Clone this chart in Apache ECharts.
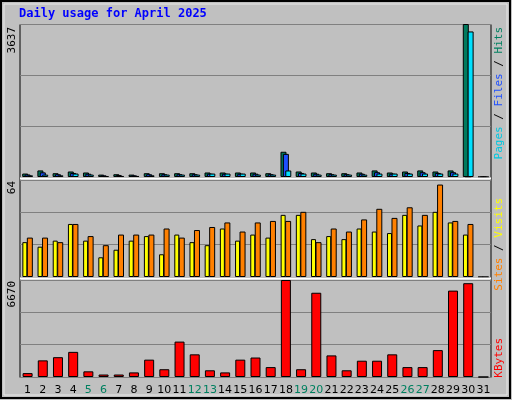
<!DOCTYPE html>
<html><head><meta charset="utf-8">
<script src="https://cdn.jsdelivr.net/npm/echarts@6/dist/echarts.min.js"></script>
<style>html,body{margin:0;padding:0;background:#c0c0c0}#c{width:512px;height:400px}</style>
</head><body><div id="c"></div>
<script>
const days = Array.from({length:31},(_,i)=>String(i+1));
const weekend = ['5','6','12','13','19','20','26','27'];
const hits  = [82,156,90,131,107,57,66,57,90,90,90,90,107,107,107,107,90,600,131,107,90,90,107,156,107,131,156,131,156,3637,0];
const files = [60,110,66,96,78,40,48,40,66,66,66,66,78,78,78,78,66,550,96,78,66,66,78,114,78,96,114,96,114,0,0];
const pages = [40,57,40,82,57,20,25,25,40,57,57,57,82,82,82,57,57,155,82,57,57,57,57,82,82,82,82,82,82,3460,0];
const visits = [23,20,24,35,24,13,18,24,27,15,28,23,21,32,24,28,26,41,41,25,27,25,32,30,29,41,34,43,36,28,0];
const sites  = [26,26,23,35,27,21,28,28,28,32,26,31,33,36,30,36,37,37,43,23,32,30,38,45,39,46,41,61,37,35,0];
const kbytes = [268,1144,1363,1728,390,170,170,316,1193,535,2434,1558,462,316,1193,1339,681,6670,535,5793,1485,462,1120,1120,1558,681,681,1850,5940,6450,0];
const maxTop = 3637, maxMid = 64, maxBot = 6670;

const chart = echarts.init(document.getElementById('c'));
const L = 20, R = 21;
const grids = [{left:L,right:R,top:24,height:153},{left:L,right:R,top:180,height:97},{left:L,right:R,top:280,height:97}];
const ist = {borderColor:'#000',borderWidth:1};
const mono='DejaVu Sans Mono';
function yAx(i,max){return {gridIndex:i,min:0,max:max,interval:max/3,axisLabel:{show:false},axisTick:{show:false},axisLine:{show:false},splitLine:{lineStyle:{color:'#808080',width:1}}};}
function xAx(i,show){return {gridIndex:i,type:'category',data:days,axisTick:{show:false},axisLine:{show:false},
  axisLabel:{show:show,interval:0,margin:8,fontFamily:'DejaVu Sans',fontSize:11,
    formatter:v=>weekend.includes(v)?'{w|'+v+'}':'{n|'+v+'}',rich:{w:{color:'#008060',fontSize:11,fontFamily:'DejaVu Sans'},n:{color:'#000',fontSize:11,fontFamily:'DejaVu Sans'}}}};}
function vtext(x,y,text,fill,rich){const s={text:text,font:'11px '+mono,fill:fill||'#000',align:'right',verticalAlign:'top'};if(rich)s.rich=rich;
  return {type:'text',x:x,y:y,rotation:Math.PI/2,style:s};}
chart.setOption({
  animation:false,backgroundColor:'#c0c0c0',
  grid:grids,
  xAxis:[xAx(0,false),xAx(1,false),xAx(2,true)],
  yAxis:[yAx(0,maxTop),yAx(1,maxMid),yAx(2,maxBot)],
  graphic:[
    {type:'rect',shape:{x:1,y:1,width:509,height:397},style:{fill:'none',stroke:'#000',lineWidth:2},silent:true},
    {type:'rect',shape:{x:4,y:4,width:503,height:391},style:{fill:'none',stroke:'#e8e8e8',lineWidth:1},silent:true},
    {type:'rect',shape:{x:20,y:24.5,width:471,height:353},style:{fill:'none',stroke:'#000',lineWidth:1},silent:true,z:-1},
    {type:'line',shape:{x1:20,y1:178.5,x2:491,y2:178.5},style:{stroke:'#fff',lineWidth:2},z:10},
    {type:'line',shape:{x1:20,y1:278.5,x2:491,y2:278.5},style:{stroke:'#fff',lineWidth:2},z:10},
    {type:'text',x:19,y:8,style:{text:'Daily usage for April 2025',font:'bold 12px '+mono,fill:'#0000ff'}},
    vtext(7,27,String(maxTop)),
    vtext(7,181,String(maxMid)),
    vtext(7,281,String(maxBot)),
    vtext(494,27,'{a|Pages} / {b|Files} / {c|Hits}','#000',
      {a:{fill:'#00c8e0',font:'11px '+mono},b:{fill:'#1e4fff',font:'11px '+mono},c:{fill:'#008060',font:'11px '+mono}}),
    vtext(494,198,'{a|Sites} / {b|Visits}','#000',
      {a:{fill:'#ff8000',font:'11px '+mono},b:{fill:'#ffff00',font:'11px '+mono}}),
    vtext(494,338,'KBytes','#ff0000')
  ],
  series:[
    {type:'bar',xAxisIndex:0,yAxisIndex:0,data:hits,barWidth:6,barGap:'-60%',itemStyle:Object.assign({color:'#007a5e'},ist)},
    {type:'bar',xAxisIndex:0,yAxisIndex:0,data:files,barWidth:6,barGap:'-60%',itemStyle:Object.assign({color:'#1e4fff'},ist)},
    {type:'bar',xAxisIndex:0,yAxisIndex:0,data:pages,barWidth:6,barGap:'-60%',itemStyle:Object.assign({color:'#00e0ff'},ist)},
    {type:'bar',xAxisIndex:1,yAxisIndex:1,data:visits,barWidth:5,barGap:'-10%',itemStyle:Object.assign({color:'#ffff00'},ist)},
    {type:'bar',xAxisIndex:1,yAxisIndex:1,data:sites,barWidth:6,barGap:'-10%',itemStyle:Object.assign({color:'#ff8000'},ist)},
    {type:'bar',xAxisIndex:2,yAxisIndex:2,data:kbytes,barWidth:10,itemStyle:Object.assign({color:'#ff0000'},ist)}
  ]
});
</script></body></html>
